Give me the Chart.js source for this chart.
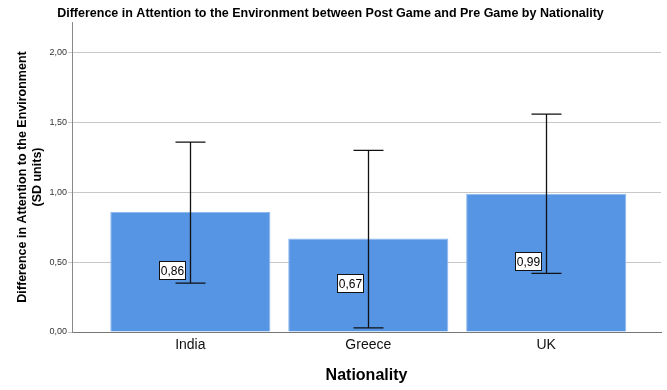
<!DOCTYPE html>
<html>
<head>
<meta charset="utf-8">
<script src="https://cdn.jsdelivr.net/npm/chart.js@4"></script>
<style>
  html, body { margin: 0; padding: 0; background: #fff; }
  #wrap { width: 667px; height: 390px; position: relative; }
</style>
</head>
<body>
<div id="wrap"><canvas id="attnChart"></canvas></div>
<script>
const nationalities = ['India', 'Greece', 'UK'];
const meanDiff = [0.86, 0.67, 0.99];
const ciLow = [0.35, 0.03, 0.42];
const ciHigh = [1.36, 1.30, 1.56];
const yTicks = [0, 0.5, 1, 1.5, 2];

const FONT = "'Liberation Sans', Arial, sans-serif";
const fmt = v => v.toFixed(2).replace('.', ',');

// whiskers for the intervals, then the boxed mean labels on top
const errorBars = {
    id: 'errorBars',
    afterDatasetsDraw(chart) {
        const ctx = chart.ctx;
        const y = chart.scales.y;
        const bars = chart.getDatasetMeta(0).data;
        ctx.save();
        ctx.strokeStyle = '#111';
        ctx.lineWidth = 1.3;
        bars.forEach((bar, i) => {
            const x = Math.round(bar.x) + 0.5;
            const top = y.getPixelForValue(ciHigh[i]);
            const bot = y.getPixelForValue(ciLow[i]);
            ctx.beginPath();
            ctx.moveTo(x, top); ctx.lineTo(x, bot);
            ctx.moveTo(x - 15, top); ctx.lineTo(x + 15, top);
            ctx.moveTo(x - 15, bot); ctx.lineTo(x + 15, bot);
            ctx.stroke();
        });

        ctx.font = '12px ' + FONT;
        ctx.textBaseline = 'middle';
        ctx.textAlign = 'center';
        ctx.lineWidth = 1;
        bars.forEach((bar, i) => {
            const txt = fmt(meanDiff[i]);
            const w = Math.round(ctx.measureText(txt).width + 3);
            const h = 18;
            const cx = bar.x - 18;
            const cy = y.getPixelForValue(meanDiff[i] / 2) - 2;
            const bx = Math.round(cx - w / 2) + 0.5;
            const by = Math.round(cy - h / 2) + 0.5;
            ctx.fillStyle = '#fff';
            ctx.fillRect(bx, by, w, h);
            ctx.strokeRect(bx, by, w, h);
            ctx.fillStyle = '#000';
            ctx.fillText(txt, bx + w / 2, by + h / 2 + 1);
        });
        ctx.restore();
    }
};

new Chart(document.getElementById('attnChart'), {
    type: 'bar',
    data: {
        datasets: [{
            data: nationalities.map((n, i) => ({ x: i + 1, y: meanDiff[i] })),
            backgroundColor: '#5595e4',
            borderColor: '#8fb8ee',
            borderWidth: 1,
            categoryPercentage: 1,
            barPercentage: 0.9
        }]
    },
    options: {
        responsive: true,
        maintainAspectRatio: false,
        animation: false,
        layout: { padding: { right: 6 } },
        plugins: {
            legend: { display: false },
            tooltip: { enabled: false },
            title: {
                display: true,
                text: 'Difference in Attention to the Environment between Post Game and Pre Game by Nationality',
                color: '#000',
                font: { family: FONT, size: 12.5, weight: 'bold' },
                padding: { top: 6, bottom: 1 }
            }
        },
        scales: {
            x: {
                type: 'linear',
                offset: false,
                min: 0.335,
                max: 3.645,
                afterBuildTicks: s => { s.ticks = nationalities.map((n, i) => ({ value: i + 1 })); },
                afterFit: s => { s.height = 58; },
                grid: { display: false, drawTicks: false, offset: false },
                border: { color: '#777' },
                ticks: {
                    callback: (v, i) => nationalities[i],
                    color: '#111',
                    font: { family: FONT, size: 14 },
                    padding: 5,
                    autoSkip: false,
                    maxRotation: 0
                },
                title: {
                    display: true,
                    text: 'Nationality',
                    color: '#000',
                    font: { family: FONT, size: 16, weight: 'bold' },
                    padding: { top: 0, bottom: 5 }
                }
            },
            y: {
                min: 0,
                max: 2.22,
                afterBuildTicks: s => { s.ticks = yTicks.map(v => ({ value: v })); },
                afterFit: s => { s.width = 72; },
                grid: { color: '#c8c8c8', tickLength: 4 },
                border: { color: '#888' },
                ticks: {
                    callback: v => fmt(v),
                    color: '#333',
                    font: { family: FONT, size: 9 },
                    padding: 1
                },
                title: {
                    display: true,
                    text: ['Difference in Attention to the Environment', '(SD units)'],
                    color: '#000',
                    font: { family: FONT, size: 12.5, weight: 'bold' },
                    padding: { top: 15, bottom: 0 }
                }
            }
        }
    },
    plugins: [errorBars]
});
</script>
</body>
</html>
